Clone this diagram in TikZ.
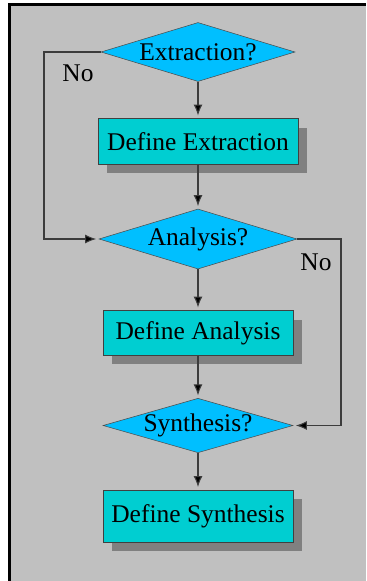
\documentclass[tikz,border=0pt]{standalone}
\usepackage{fontspec}
\setmainfont{Liberation Serif}
\usetikzlibrary{shapes.geometric,arrows.meta,shadows}
\definecolor{panelgray}{RGB}{192,192,192}
\definecolor{shadegray}{RGB}{128,128,128}
\definecolor{askblue}{RGB}{0,191,255}
\definecolor{steptur}{RGB}{0,206,209}
\definecolor{wiregray}{RGB}{60,60,60}
\tikzset{
	ask/.style={diamond, aspect=3.3, fill=askblue, draw=black!70, line width=0.3pt, inner sep=0pt, font=\fontsize{14.5}{17}\selectfont},
	stepbox/.style={rectangle, fill=steptur, draw=black!75, line width=0.4pt, inner sep=0pt, font=\fontsize{14.5}{17}\selectfont,
		drop shadow={shadow xshift=0.18cm, shadow yshift=-0.18cm, fill=shadegray, opacity=1}},
	flow/.style={draw=wiregray, line width=0.6pt, -{Latex[length=0.22cm,width=0.18cm,fill=black]}, shorten >=1.5pt},
	lbl/.style={font=\fontsize{14.5}{17}\selectfont}
}
\begin{document}
\begin{tikzpicture}[x=0.02cm,y=-0.02cm]
		\useasboundingbox (0,0) rectangle (366,581);
		\fill[panelgray](9.5,4.5) rectangle (366,581);
		\draw[line width=1.2pt](9.5,581)--(9.5,4.5)--(366,4.5);
		% questions and steps
		\node[ask, minimum width=3.88cm, minimum height=1.18cm] (ext) at (198,52) {Extraction?};
		\node[stepbox, minimum width=4cm, minimum height=0.92cm] (defext) at (198,141.5) {Define Extraction};
		\node[ask, minimum width=3.96cm, minimum height=1.2cm] (ana) at (198,239) {Analysis?};
		\node[stepbox, minimum width=3.8cm, minimum height=0.9cm] (defana) at (198,333) {Define Analysis};
		\node[ask, aspect=3.49, minimum width=3.7cm, minimum height=1.06cm] (syn) at (198,425.5) {Synthesis?};
		\node[stepbox, minimum width=3.8cm, minimum height=1.04cm] (defsyn) at (198,516) {Define Synthesis};
		\coordinate (lft) at (44,0);
		\coordinate (rgt) at (341,0);
		% yes path
		\draw[flow](ext.south)--(defext.north);
		\draw[flow](defext.south)--(ana.north);
		\draw[flow](ana.south)--(defana.north);
		\draw[flow](defana.south)--(syn.north);
		\draw[flow](syn.south)--(defsyn.north);
		% no path
		\draw[flow](ext.west)--(ext.west -| lft)|-(ana.west);
		\draw[flow](ana.east)--(ana.east -| rgt)|-(syn.east);
		\node[lbl] (no1) at (78,73) {No};
		\node[lbl] (no2) at (316,262) {No};
\end{tikzpicture}
\end{document}
